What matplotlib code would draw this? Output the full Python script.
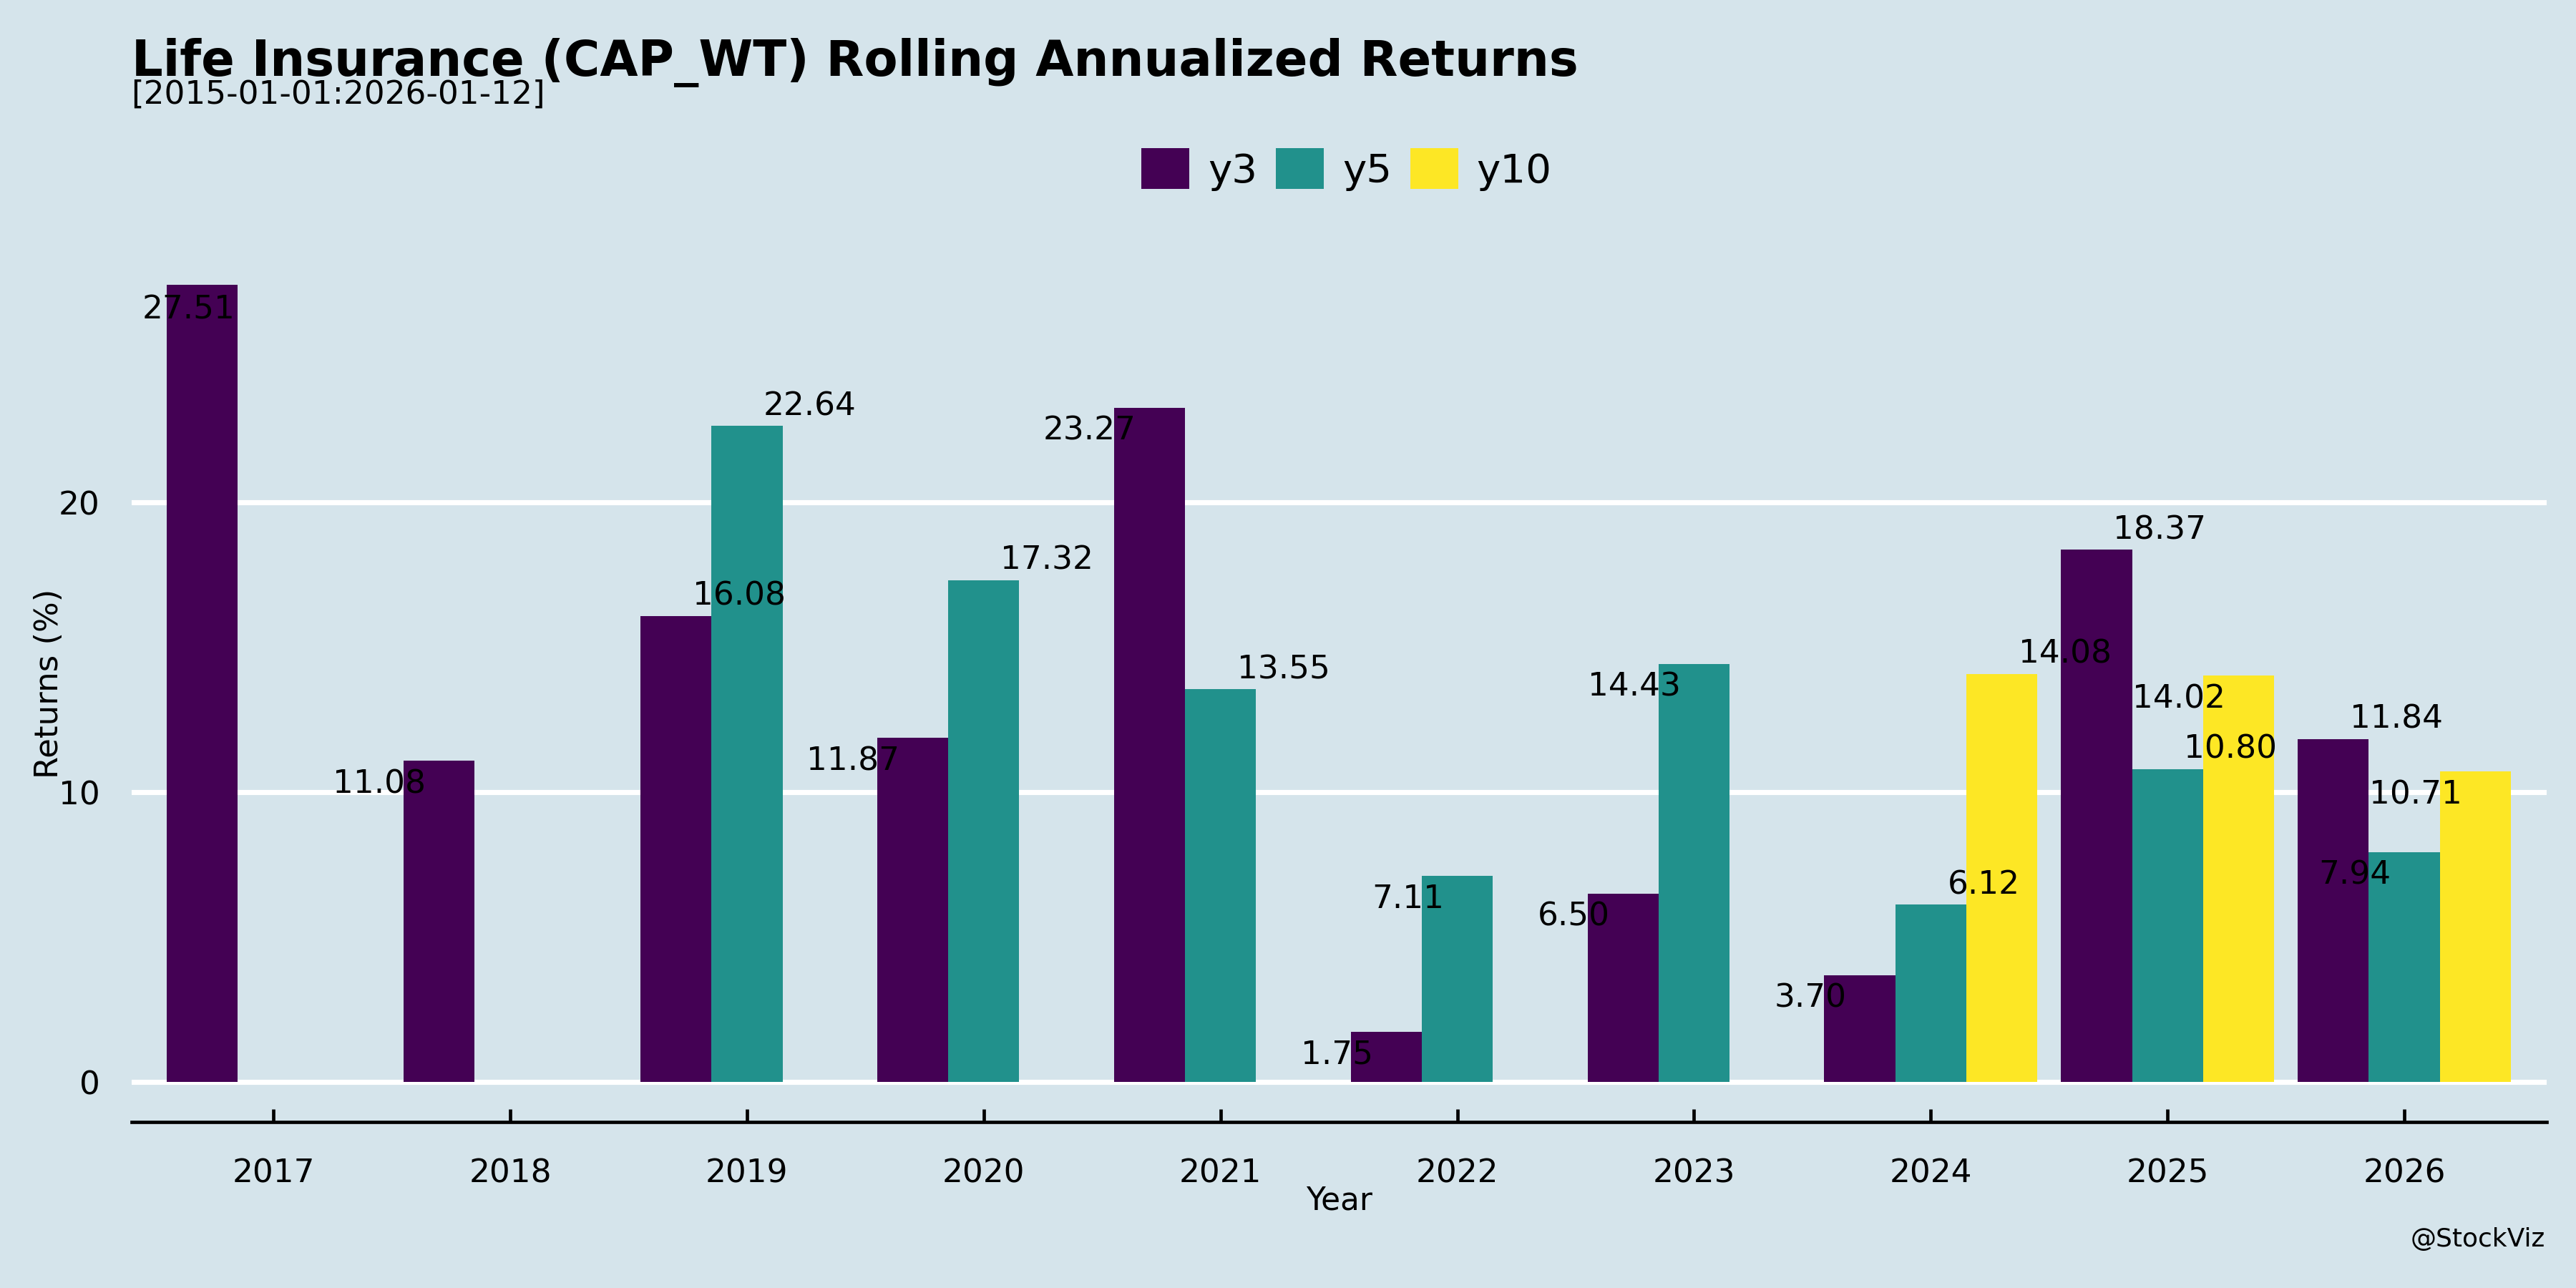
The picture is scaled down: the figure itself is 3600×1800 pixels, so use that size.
import numpy as np
import matplotlib
matplotlib.use("Agg")
import matplotlib.pyplot as plt

years = ["2017", "2018", "2019", "2020", "2021", "2022", "2023", "2024", "2025", "2026"]
y3 = [27.51, 11.08, 16.08, 11.87, 23.27, 1.75, 6.50, 3.70, 18.37, 11.84]
y5 = [np.nan, np.nan, 22.64, 17.32, 13.55, 7.11, 14.43, 6.12, 10.80, 7.94]
y10 = [np.nan] * 7 + [14.08, 14.02, 10.71]

series_names = ["y3", "y5", "y10"]
series_colors = ["#440154", "#21918c", "#fde725"]

# where each value label sits next to its bar top: up-right, down-left, centred below
y3_sides = ["c", "dl", "ur", "dl", "dl", "dl", "dl", "dl", "ur", "ur"]
y5_sides = [None, None, "ur", "ur", "ur", "dl", "dl", "ur", "ur", "dl"]
y10_sides = [None] * 7 + ["ur", "dl", "dl"]

bg = "#d5e4eb"
plt.rcParams['font.family'] = ['DejaVu Sans']

fig = plt.figure(figsize=(16, 8), dpi=225, facecolor=bg)
ax = fig.add_axes([0.051, 0.1288, 0.9375, 0.6812])
ax.set_facecolor(bg)

x = np.arange(len(years))
width = 0.3
handles = []
for i, (vals, sides) in enumerate(zip([y3, y5, y10], [y3_sides, y5_sides, y10_sides])):
    xs = x + (i - 1) * width
    bars = ax.bar(xs, vals, width=width, color=series_colors[i], zorder=2,
                  label=series_names[i])
    handles.append(bars)
    for xi, v, s in zip(xs, vals, sides):
        if np.isnan(v):
            continue
        if s == "ur":
            off, ha, va = (7.4, 4.8), "left", "baseline"
        elif s == "dl":
            off, ha, va = (-6, -3.5), "right", "top"
        else:
            off, ha, va = (-6.2, -4.3), "center", "top"
        ax.annotate(f"{v:.2f}", xy=(xi, v), xytext=off, textcoords="offset points",
                    ha=ha, va=va, fontsize=14.5, color="black", zorder=5)

ax.set_xlim(-0.6, len(years) - 0.4)
ax.set_ylim(-1.3755, 28.886)
ax.set_xticks(x)
ax.set_xticklabels(years)
ax.set_yticks([0, 10, 20])
ax.yaxis.grid(True, color="white", linewidth=2.3, zorder=0)
ax.xaxis.grid(False)
ax.set_axisbelow(True)

for side in ["top", "right", "left"]:
    ax.spines[side].set_visible(False)
ax.spines["bottom"].set_linewidth(1.5)
ax.tick_params(axis="x", direction="in", length=5.8, width=1.5, pad=16, labelsize=14.5)
ax.tick_params(axis="y", length=0, pad=14, labelsize=14.5)

ax.set_xlabel("Year", fontsize=14, labelpad=-1.5)
ax.set_ylabel("Returns (%)", fontsize=14.4, labelpad=-2.6)

ax.legend(handles=handles, labels=series_names, loc="center", bbox_to_anchor=(0.5228, 0.8683),
          bbox_transform=fig.transFigure, ncol=3, frameon=False, fontsize=18,
          handlelength=1.19, handleheight=1.17, handletextpad=0.46, columnspacing=0.46)

fig.text(0.051, 0.941, "Life Insurance (CAP_WT) Rolling Annualized Returns",
         fontsize=22, fontweight="bold", ha="left", va="baseline")
fig.text(0.051, 0.9196, "[2015-01-01:2026-01-12]", fontsize=14.5, ha="left", va="baseline")
fig.text(0.988, 0.032, "@StockViz", fontsize=11.5, ha="right", va="baseline")

fig.savefig("out.png", dpi=225, facecolor=bg)
